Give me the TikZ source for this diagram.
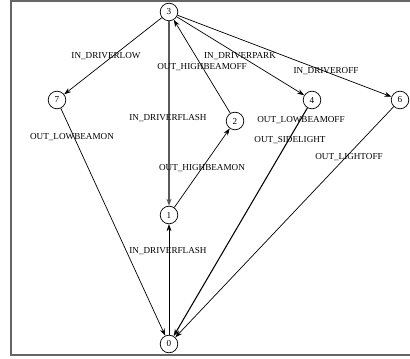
\documentclass[tikz,border=0pt]{standalone}
\usepackage{fontspec}
\setmainfont{Liberation Serif}
\usetikzlibrary{arrows.meta}

\tikzset{
	state/.style={draw, circle, inner sep=0pt, minimum size=0.44cm, line width=0.5pt, font=\fontsize{6.5}{7}\selectfont},
	lbl/.style={inner sep=0pt, font=\fontsize{6.5}{7}\selectfont},
	tr/.style={-{Stealth[length=5pt,width=3.5pt]}, line width=0.5pt}
}

\begin{document}
\begin{tikzpicture}
\useasboundingbox (0, 0) rectangle (10.25, 8.95);
\draw[gray!80!black, line width=0.9pt] (10.3, 8.925) -- (0.275, 8.925) -- (0.275, 0.075) -- (10.3, 0.075);

\node[state] (s3) at (4.225, 8.65) {3};
\node[state] (s7) at (1.425, 6.45) {7};
\node[state] (s2) at (5.875, 5.925) {2};
\node[state] (s4) at (7.8, 6.45) {4};
\node[state] (s6) at (10.0, 6.45) {6};
\node[state] (s1) at (4.225, 3.575) {1};
\node[state] (s0) at (4.225, 0.35) {0};

\draw[tr] (s3) -- (s7);
\draw[tr] (s2) -- (s3);
\draw[tr, gray!70!black, line width=1.1pt] (s3) -- (s1);
\draw[tr] (s3) -- (s4);
\draw[tr] (s3) -- (s6);
\draw[tr] (s1) -- (s2);
\draw[tr] (s0) -- (s1);
\draw[tr] (s7) -- (s0);
\draw[tr, line width=0.75pt] (s4) -- (s0);
\draw[tr] (s6) -- (s0);

\node[lbl] (l37) at (2.65, 7.55) {IN\_DRIVERLOW};
\node[lbl] (l23) at (5.05, 7.275) {OUT\_HIGHBEAMOFF};
\node[lbl] (l34) at (6.0, 7.55) {IN\_DRIVERPARK};
\node[lbl] (l36) at (8.15, 7.175) {IN\_DRIVEROFF};
\node[lbl] (l31) at (4.2, 6.0) {IN\_DRIVERFLASH};
\node[lbl] (l70) at (1.8, 5.525) {OUT\_LOWBEAMON};
\node[lbl] (l12) at (5.05, 4.75) {OUT\_HIGHBEAMON};
\node[lbl] (l40a) at (7.525, 5.95) {OUT\_LOWBEAMOFF};
\node[lbl] (l40b) at (7.25, 5.45) {OUT\_SIDELIGHT};
\node[lbl] (l60) at (8.725, 5.025) {OUT\_LIGHTOFF};
\node[lbl] (l01) at (4.2, 2.675) {IN\_DRIVERFLASH};
\end{tikzpicture}
\end{document}
